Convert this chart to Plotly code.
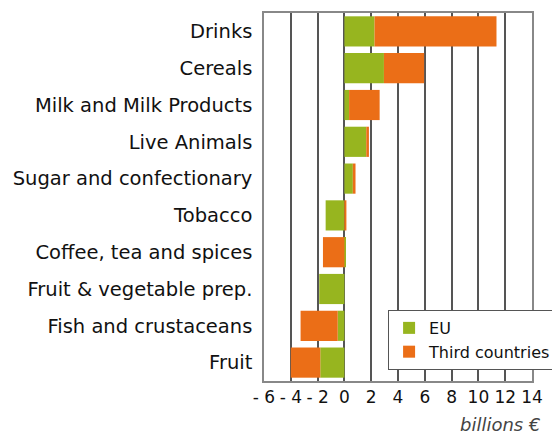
import plotly.graph_objects as go

categories = ["Drinks", "Cereals", "Milk and Milk Products", "Live Animals",
              "Sugar and confectionary", "Tobacco", "Coffee, tea and spices",
              "Fruit & vegetable prep.", "Fish and crustaceans", "Fruit"]
eu = [2.25, 2.95, 0.35, 1.63, 0.63, -1.4, 0.1, -1.88, -0.5, -1.8]
third = [9.1, 3.0, 2.28, 0.2, 0.2, 0.15, -1.6, 0.0, -2.77, -2.2]
tick_vals = [-6, -4, -2, 0, 2, 4, 6, 8, 10, 12, 14]
tick_text = ["- 6", "- 4", "- 2", "0", "2", "4", "6", "8", "10", "12", "14"]

GREEN = "#97B51F"
ORANGE = "#EB6E17"
FONT = "DejaVu Sans"

fig = go.Figure()
fig.add_trace(go.Bar(y=categories, x=eu, orientation="h", name="EU",
                     marker=dict(color=GREEN, line=dict(width=0))))
fig.add_trace(go.Bar(y=categories, x=third, orientation="h", name="Third countries",
                     marker=dict(color=ORANGE, line=dict(width=0))))

fig.update_layout(
    width=552, height=437,
    barmode="relative", bargap=0.18,
    plot_bgcolor="white", paper_bgcolor="white",
    margin=dict(l=264, r=20, t=13, b=56, autoexpand=False),
    font=dict(family=FONT, size=15, color="#111"),
    legend=dict(x=0.463, y=0.193, xanchor="left", yanchor="top",
                bgcolor="white", bordercolor="#555", borderwidth=1,
                font=dict(size=16, color="#111"), itemwidth=30,
                tracegroupgap=0),
    xaxis=dict(range=[-6, 14], tickvals=tick_vals, ticktext=tick_text,
               showgrid=True, gridcolor="#555", gridwidth=1.5,
               zeroline=True, zerolinecolor="#555", zerolinewidth=1.5,
               showline=True, mirror=True, linecolor="#888", linewidth=1.5,
               ticks="", tickfont=dict(size=17), fixedrange=True),
    yaxis=dict(autorange="reversed", showgrid=False, ticks="",
               showline=True, mirror=True, linecolor="#888", linewidth=1.5,
               ticklabelstandoff=6, tickfont=dict(size=19.5), fixedrange=True),
    showlegend=True,
)
fig.add_annotation(text="<i>billions €</i>", xref="paper", yref="paper",
                   x=1.037, y=0, xanchor="right", yanchor="top", yshift=-31,
                   showarrow=False, font=dict(size=18, color="#444", family=FONT))

fig.write_html("out.html")
